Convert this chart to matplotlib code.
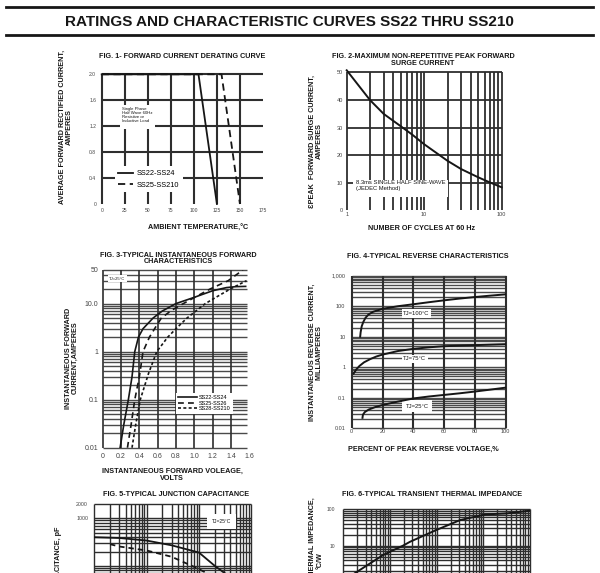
import matplotlib
matplotlib.use("Agg")
import matplotlib.pyplot as plt
import numpy as np
from matplotlib.lines import Line2D
from matplotlib.patches import Rectangle
from matplotlib.ticker import NullLocator

plt.rcParams["font.family"] = ["Liberation Sans", "DejaVu Sans"]

# ─────────────────────────────────────────────
#  Values
# ─────────────────────────────────────────────

# FIG. 1 - derating
temp_ss22 = [0, 105, 125]
corr_ss22 = [2.0, 2.0, 0.0]
temp_ss25 = [0, 130, 150]
corr_ss25 = [2.0, 2.0, 0.0]

# FIG. 2 - surge current
ciclos = [1, 2, 3, 5, 7, 10, 20, 30, 50, 70, 100]
surto = [50.8, 40, 35, 30.5, 27.5, 24, 18, 15, 12, 10.2, 8.4]

# FIG. 3 - forward characteristics
vf_ss22 = [0.19, 0.23, 0.28, 0.32, 0.35, 0.39, 0.44, 0.55, 0.65, 0.80, 1.00, 1.20, 1.35, 1.45, 1.56]
if_ss22 = [0.01, 0.03, 0.1, 0.3, 1.0, 2.0, 3.0, 5.0, 7.0, 10, 13.5, 18.5, 21.5, 22.5, 22.8]
vf_ss25 = [0.27, 0.31, 0.35, 0.40, 0.44, 0.51, 0.58, 0.64, 0.75, 0.88, 1.02, 1.17, 1.37, 1.53]
if_ss25 = [0.01, 0.03, 0.1, 0.3, 1.0, 2.0, 3.3, 5.0, 7.2, 10, 14, 20, 30, 50]
vf_ss28 = [0.32, 0.36, 0.41, 0.50, 0.59, 0.71, 0.80, 0.92, 1.12, 1.25, 1.39, 1.57]
if_ss28 = [0.01, 0.03, 0.1, 0.35, 1.0, 2.0, 3.0, 5.0, 10, 14, 20, 30]

# FIG. 4 - reverse characteristics
pct_100 = [5.5, 5.8, 6.5, 7.6, 9, 11, 14, 20, 30, 40, 50, 60, 70, 80, 90, 100]
ir_100 = [10, 14, 22, 31, 42, 54, 66, 82, 100, 116, 135, 156, 178, 200, 222, 245]
pct_75 = [1.2, 3, 5, 8, 12, 16, 20, 30, 40, 50, 60, 70, 80, 90, 100]
ir_75 = [0.62, 0.85, 1.1, 1.45, 1.85, 2.25, 2.6, 3.4, 4.0, 4.5, 4.9, 5.1, 5.3, 5.5, 5.7]
pct_25 = [7, 7.3, 8.5, 11, 15, 20, 30, 40, 50, 60, 70, 80, 90, 100]
ir_25 = [0.022, 0.028, 0.034, 0.041, 0.049, 0.058, 0.075, 0.095, 0.11, 0.124, 0.14, 0.16, 0.185, 0.215]

# FIG. 5 - junction capacitance
vr_ss22 = [0.1, 0.3, 1, 3, 10, 20, 30, 50]
cj_ss22 = [400, 385, 340, 270, 190, 100, 72, 48]
vr_ss25 = [0.2, 0.3, 1, 3, 9, 13.5, 20, 30]
cj_ss25 = [285, 255, 210, 155, 90, 72, 55, 42]

# FIG. 6 - transient thermal impedance
t_pulso = [0.012, 0.018, 0.072, 0.19, 0.27, 1.0, 3.2, 11, 32, 100]
z_th = [1.25, 1.8, 5.6, 10, 12.8, 27, 50, 71, 76, 90]

# ─────────────────────────────────────────────
#  Helpers
# ─────────────────────────────────────────────

W, H = 600, 573
INK = "#161616"
GRID = "#2e2e2e"
GRID_LOG = "#4a4a4a"
TICK = "#444444"

fig = plt.figure(figsize=(W / 100, H / 100), dpi=100)
fig.patch.set_facecolor("white")


def add_ax(x0, y0, x1, y1):
    """Axes from a pixel box, origin at the top-left of the page."""
    return fig.add_axes([x0 / W, 1 - y1 / H, (x1 - x0) / W, (y1 - y0) / H])


def put(x, y, s, **kw):
    kw.setdefault("color", INK)
    kw.setdefault("ha", "center")
    kw.setdefault("va", "center")
    return fig.text(x / W, 1 - y / H, s, **kw)


def bare(ax, size, xpad, ypad):
    for sp in ax.spines.values():
        sp.set_visible(False)
    ax.tick_params(which="both", length=0, labelsize=size, labelcolor=TICK)
    ax.tick_params(axis="x", pad=xpad)
    ax.tick_params(axis="y", pad=ypad)
    ax.set_facecolor("white")


def log_grid(lo, hi):
    vals = [m * 10.0 ** k for k in range(-3, 5) for m in range(1, 10)]
    return [v for v in vals if lo * 0.999 <= v <= hi * 1.001]


def white_box(ax, x0, y0, x1, y1):
    ax.add_patch(Rectangle((x0, y0), x1 - x0, y1 - y0, fc="white", ec="none", zorder=1))


TITLE = dict(fontsize=5.2, weight="bold")
LABEL = dict(fontsize=5.2, weight="bold", multialignment="center")
tag_box = dict(fc="white", ec="none", pad=1.2)

# ── page header ──────────────────────────────
fig.add_artist(Line2D([6 / W, 593 / W], [1 - 7.1 / H] * 2, lw=2.0, color=INK))
fig.add_artist(Line2D([6 / W, 593 / W], [1 - 35.2 / H] * 2, lw=2.0, color=INK))
put(289, 22.5, "RATINGS AND CHARACTERISTIC CURVES SS22 THRU SS210", fontsize=11, weight="bold")

# ── FIG. 1 ───────────────────────────────────
ax1 = add_ax(101.7, 74.3, 263, 204)
bare(ax1, 3.6, 3.0, 4.0)
ax1.set_xlim(0, 175)
ax1.set_ylim(0, 2.0)
ax1.set_xticks(range(0, 176, 25))
ax1.set_yticks([0, 0.4, 0.8, 1.2, 1.6, 2.0], ["0", "0.4", "0.8", "1.2", "1.6", "2.0"])
ax1.vlines(range(0, 151, 25), 0, 2.0, color=GRID, lw=1.5, clip_on=False, zorder=0.5)
ax1.hlines([0.4, 0.8, 1.2, 1.6, 2.0], 0, 175, color=GRID, lw=1.5, clip_on=False, zorder=0.5)
white_box(ax1, 20, 1.16, 58, 1.53)
ax1.text(22, 1.50, "Single Phase\nHalf Wave 60Hz\nResistive or\nInductive Load",
         fontsize=3.1, ha="left", va="top", linespacing=1.0, color=INK, zorder=2)
ax1.plot(temp_ss22, corr_ss22, color=INK, lw=1.3, label="SS22-SS24", clip_on=False, zorder=3)
ax1.plot(temp_ss25, corr_ss25, color=INK, lw=1.3, ls=(0, (4, 2.5)), label="SS25-SS210",
         clip_on=False, zorder=3)
ax1.legend(loc="center left", bbox_to_anchor=(0.08, 0.19), fontsize=5.3, frameon=True,
           facecolor="white", edgecolor="none", framealpha=1, fancybox=False,
           handlelength=2.0, handletextpad=0.5, labelspacing=0.6, borderpad=0.5,
           borderaxespad=0)
put(182, 56.7, "FIG. 1- FORWARD CURRENT DERATING CURVE", **TITLE)
put(197.7, 228, "AMBIENT TEMPERATURE,°C", **LABEL)
put(65.8, 127, "AVERAGE FORWARD RECTIFIED CURRENT,\nAMPERES", rotation=90, linespacing=1.1, **LABEL)

# ── FIG. 2 ───────────────────────────────────
ax2 = add_ax(346.7, 72.5, 501.7, 210.5)
bare(ax2, 4.0, 1.2, 2.5)
ax2.set_xscale("log")
ax2.set_xlim(1, 100)
ax2.set_ylim(0, 50)
ax2.xaxis.set_minor_locator(NullLocator())
ax2.set_xticks([1, 10, 100], ["1", "10", "100"])
ax2.set_yticks(range(0, 51, 10), ["0", "10", "20", "30", "40", "50"])
ax2.vlines(log_grid(1, 100), 0, 50, color=GRID, lw=1.3, clip_on=False, zorder=0.5)
ax2.hlines([10, 20, 30, 40, 50], 1, 100, color=GRID, lw=1.3, clip_on=False, zorder=0.5)
white_box(ax2, 1.22, 4.8, 20.5, 11.0)
ax2.text(1.3, 11.0, "8.3ms SINGLE HALF SINE-WAVE\n(JEDEC Method)", fontsize=4.2,
         ha="left", va="top", linespacing=1.15, color=INK, zorder=2)
ax2.plot(ciclos, surto, color=INK, lw=1.4, clip_on=False, zorder=3)
put(423, 60, "FIG. 2-MAXIMUM NON-REPETITIVE PEAK FORWARD\nSURGE CURRENT", linespacing=0.95,
    multialignment="center", **TITLE)
put(422, 228, "NUMBER OF CYCLES AT 60 Hz", **LABEL)
put(316, 141, "ƐPEAK  FORWARD SURGE CURRENT,\nAMPERES", rotation=90, linespacing=1.1, **LABEL)

# ── FIG. 3 ───────────────────────────────────
ax3 = add_ax(102.7, 270, 249.3, 447.7)
bare(ax3, 5.0, 3.5, 3.2)
ax3.set_yscale("log")
ax3.set_xlim(0, 1.6)
ax3.set_ylim(0.01, 50)
ax3.yaxis.set_minor_locator(NullLocator())
ax3.set_xticks(np.arange(0, 1.61, 0.2), ["0", "0.2", "0.4", "0.6", "0.8", "1.0", "1.2", "1.4", "1.6"])
ax3.set_yticks([0.01, 0.1, 1, 10, 50], ["0.01", "0.1", "1", "10.0", "50"])
ax3.hlines(log_grid(0.01, 50), 0, 1.57, color=GRID_LOG, lw=1.0, clip_on=False, zorder=0.5)
ax3.vlines(np.arange(0, 1.41, 0.2), 0.01, 50, color=GRID, lw=1.2, clip_on=False, zorder=0.5)
ax3.text(0.16, 33, "TJ=25°C", fontsize=3.0, ha="center", va="center", color=INK,
         bbox=tag_box, zorder=2)
ax3.plot(vf_ss22, if_ss22, color=INK, lw=1.2, label="SS22-SS24", zorder=3)
ax3.plot(vf_ss25, if_ss25, color=INK, lw=1.2, ls=(0, (3.5, 2.5)), label="SS25-SS26", zorder=3)
ax3.plot(vf_ss28, if_ss28, color=INK, lw=1.2, ls=(0, (1.8, 1.4)), label="SS28-SS210",
         clip_on=False, zorder=3)
ax3.legend(loc="center left", bbox_to_anchor=(0.5, 0.25), fontsize=4.0, frameon=True,
           facecolor="white", edgecolor="none", framealpha=1, fancybox=False,
           handlelength=3.4, handletextpad=0.3, labelspacing=0.1, borderpad=0.4,
           borderaxespad=0)
put(178, 258.8, "FIG. 3-TYPICAL INSTANTANEOUS FORWARD\nCHARACTERISTICS", linespacing=0.85,
    multialignment="center", **TITLE)
put(172, 475, "INSTANTANEOUS FORWARD VOLEAGE,\nVOLTS", linespacing=0.9, **LABEL)
put(71.5, 358, "INSTANTANEOUS FORWARD\nCURRENT,AMPERES", rotation=90, linespacing=1.0, **LABEL)

# ── FIG. 4 ───────────────────────────────────
ax4 = add_ax(351.7, 275.7, 505.7, 428.3)
bare(ax4, 4.0, 0.8, 4.5)
ax4.set_yscale("log")
ax4.set_xlim(0, 100)
ax4.set_ylim(0.01, 1000)
ax4.yaxis.set_minor_locator(NullLocator())
ax4.set_xticks(range(0, 101, 20))
ax4.set_yticks([0.01, 0.1, 1, 10, 100, 1000], ["0.01", "0.1", "1", "10", "100", "1,000"])
ax4.hlines(log_grid(0.01, 1000), 0, 100, color=GRID_LOG, lw=1.0, clip_on=False, zorder=0.5)
ax4.vlines(range(0, 101, 20), 0.01, 1000, color=GRID, lw=1.5, clip_on=False, zorder=0.5)
ax4.plot(pct_100, ir_100, color=INK, lw=1.4, zorder=3)
ax4.plot(pct_75, ir_75, color=INK, lw=1.4, zorder=3)
ax4.plot(pct_25, ir_25, color=INK, lw=1.4, zorder=3)
ax4.text(42, 58, "TJ=100°C", fontsize=4.2, ha="center", va="center", color=INK, bbox=tag_box, zorder=2)
ax4.text(41, 1.87, "TJ=75°C", fontsize=4.2, ha="center", va="center", color=INK, bbox=tag_box, zorder=2)
ax4.text(42.5, 0.052, "TJ=25°C", fontsize=4.2, ha="center", va="center", color=INK,
         bbox=dict(fc="white", ec="none", pad=2.5), zorder=2)
put(428, 256.7, "FIG. 4-TYPICAL REVERSE CHARACTERISTICS", **TITLE)
put(423.5, 449, "PERCENT OF PEAK REVERSE VOLTAGE,%", **LABEL)
put(315.5, 352, "INSTANTANEOUS REVERSE CURRENT,\nMILLIAMPERES", rotation=90, linespacing=1.0, **LABEL)

# ── FIG. 5 (cut by the page edge) ────────────
ax5 = add_ax(94.3, 504, 251.3, 613.3)
bare(ax5, 3.8, 3.0, 4.5)
ax5.set_xscale("log")
ax5.set_yscale("log")
ax5.set_xlim(0.1, 100)
ax5.set_ylim(10, 2000)
ax5.xaxis.set_minor_locator(NullLocator())
ax5.yaxis.set_minor_locator(NullLocator())
ax5.set_xticks([])
ax5.set_yticks([1000, 2000], ["1000", "2000"])
ax5.vlines(log_grid(0.1, 100), 10, 2000, color=GRID, lw=1.0, clip_on=False, zorder=0.5)
ax5.hlines(log_grid(10, 2000), 0.1, 100, color=GRID, lw=1.0, clip_on=False, zorder=0.5)
ax5.text(27, 850, "TJ=25°C", fontsize=3.6, ha="center", va="center", color=INK,
         bbox=dict(fc="white", ec="none", pad=3.5), zorder=2)
ax5.plot(vr_ss22, cj_ss22, color=INK, lw=1.3, zorder=3)
ax5.plot(vr_ss25, cj_ss25, color=INK, lw=1.3, ls=(0, (3, 2.2)), zorder=3)
put(176, 494, "FIG. 5-TYPICAL JUNCTION CAPACITANCE", **TITLE)
put(59, 527, "JUNCTION CAPACITANCE, pF", rotation=90, fontsize=5.2, weight="bold", va="top")

# ── FIG. 6 (cut by the page edge) ────────────
ax6 = add_ax(343.3, 509, 530, 619)
bare(ax6, 3.6, 3.0, 6.0)
ax6.set_xscale("log")
ax6.set_yscale("log")
ax6.set_xlim(0.01, 100)
ax6.set_ylim(0.1, 100)
ax6.xaxis.set_minor_locator(NullLocator())
ax6.yaxis.set_minor_locator(NullLocator())
ax6.set_xticks([])
ax6.set_yticks([10, 100], ["10", "100"])
ax6.vlines(log_grid(0.01, 100), 0.1, 100, color=GRID, lw=1.0, clip_on=False, zorder=0.5)
ax6.hlines(log_grid(0.1, 100), 0.01, 100, color=GRID, lw=1.0, clip_on=False, zorder=0.5)
ax6.plot(t_pulso, z_th, color=INK, lw=1.4, zorder=3)
put(431.7, 494, "FIG. 6-TYPICAL TRANSIENT THERMAL IMPEDANCE", **TITLE)
put(316.5, 561, "TRANSIENT THERMAL IMPEDANCE,\n°C/W", rotation=90, linespacing=1.1, **LABEL)

fig.savefig("out.png", dpi=100, facecolor="white")
plt.close(fig)
